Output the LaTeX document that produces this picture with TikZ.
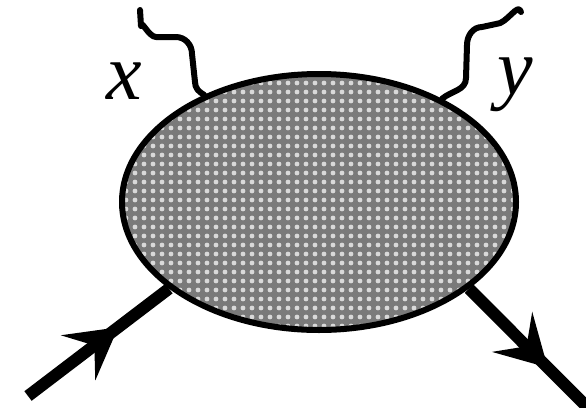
\documentclass[tikz,border=0pt]{standalone}
\usepackage{fontspec}
\setmainfont{Liberation Serif}
\usetikzlibrary{shapes.geometric,patterns.meta,decorations.markings,arrows.meta}
\tikzset{
  blobstyle/.style={ellipse, draw=black, line width=6pt, minimum width=394pt, minimum height=256pt,
    inner sep=0pt, preaction={fill=black!52}, pattern={Dots[distance=9pt,radius=2.4pt]}, pattern color=black!15},
  fermion/.style={line width=12pt, line cap=butt},
  midarrow/.style={postaction={decorate}, decoration={markings,
    mark=at position #1 with {\arrow{Stealth[length=50pt,width=56pt,inset=20pt]}}}},
  photon/.style={line width=6pt, line cap=round, line join=round},
  lbl/.style={font=\fontsize{80}{80}\selectfont\itshape, inner sep=0pt, anchor=base}
}
\begin{document}
\begin{tikzpicture}[x=1pt,y=-1pt]
\useasboundingbox (0,0) rectangle (586,407);
\node[blobstyle] (blob) at (319,202) {};
% photons
\coordinate (xs) at (140,10);
\coordinate (ys) at (521,12);
\draw[photon] (xs) -- (141,26) to[out=90,in=180] (156,37) -- (176,37)
  to[out=0,in=90] (192,54) -- (195,82) to[out=270,in=150] (blob.137);
\draw[photon] (ys) to[out=105,in=0] (496,24) -- (482,27)
  to[out=180,in=90] (467,45) -- (466,78) to[out=270,in=40] (blob.40);
% fermions
\coordinate (fin) at (28,396);
\coordinate (fout) at (592,412);
\draw[fermion, midarrow=0.64] (fin) -- (blob.210);
\draw[fermion, midarrow=0.64] (blob.330) -- (fout);
% labels
\node[lbl] (lx) at (124,99) {x};
\node[lbl] (ly) at (515,94) {y};
\end{tikzpicture}
\end{document}
